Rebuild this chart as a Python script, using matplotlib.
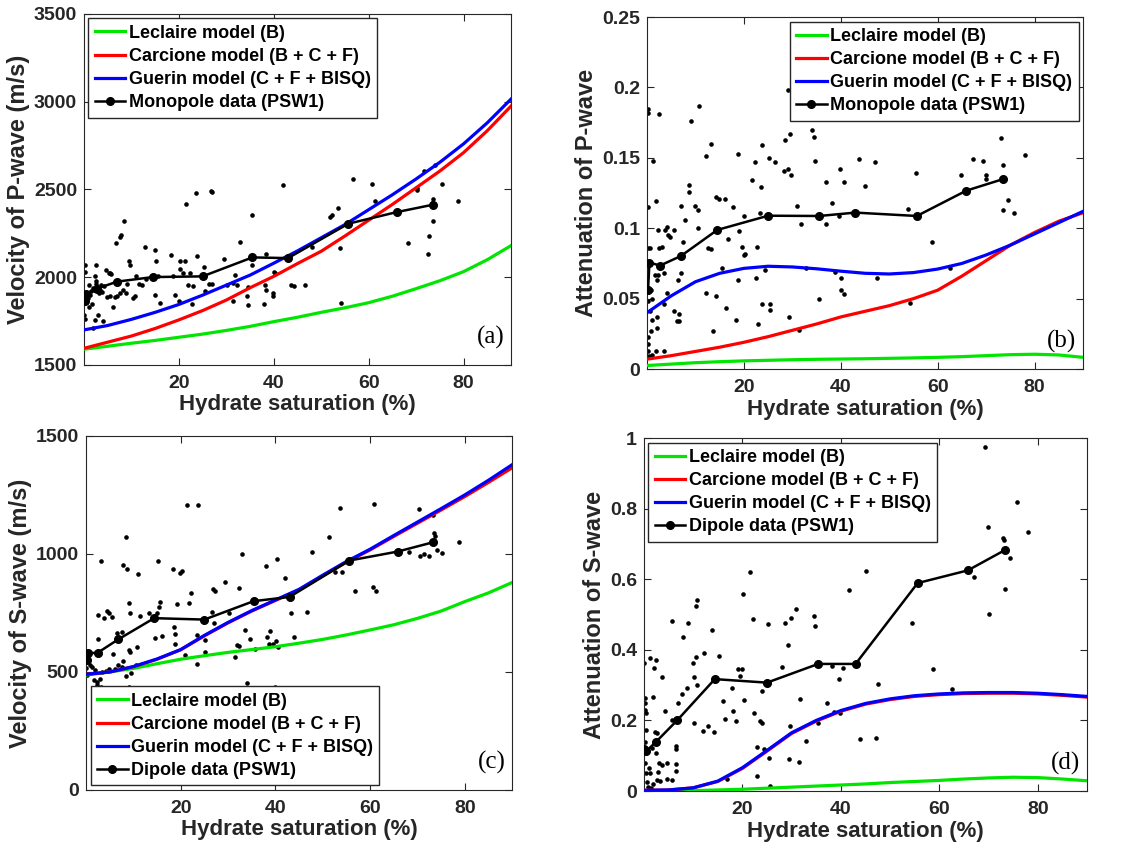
import numpy as np
import matplotlib.pyplot as plt
from matplotlib.lines import Line2D

plt.rcParams['font.family'] = ['Liberation Sans', 'DejaVu Sans']
plt.rcParams['font.weight'] = 'bold'

# --- model curves, every 5 % saturation ---
sat_grid = [0, 5, 10, 15, 20, 25, 30, 35, 40, 45, 50, 55, 60, 65, 70, 75, 80, 85, 90]

vp_leclaire = [1590, 1607, 1624, 1640, 1658, 1676, 1697, 1720, 1747, 1772, 1800, 1826, 1855, 1892, 1935, 1980, 2032, 2100, 2180]
vp_carcione = [1595, 1630, 1665, 1708, 1757, 1810, 1870, 1940, 2005, 2078, 2148, 2235, 2325, 2415, 2510, 2605, 2710, 2835, 2975]
vp_guerin = [1700, 1725, 1760, 1800, 1845, 1898, 1955, 2012, 2080, 2150, 2225, 2300, 2385, 2470, 2560, 2655, 2760, 2880, 3015]

qp_leclaire = [0.0025, 0.0035, 0.0045, 0.0052, 0.0058, 0.0062, 0.0066, 0.0069, 0.0071, 0.0073, 0.0076, 0.0079, 0.0083, 0.0088, 0.0095, 0.0102, 0.0105, 0.0100, 0.0083]
qp_carcione = [0.007, 0.0095, 0.0125, 0.0155, 0.019, 0.023, 0.0275, 0.032, 0.037, 0.041, 0.045, 0.050, 0.056, 0.066, 0.077, 0.088, 0.097, 0.105, 0.111]
qp_guerin = [0.040, 0.052, 0.062, 0.068, 0.0715, 0.073, 0.0725, 0.0712, 0.0695, 0.068, 0.0675, 0.0685, 0.071, 0.075, 0.081, 0.088, 0.096, 0.104, 0.112]

vs_leclaire = [487, 500, 515, 535, 554, 569, 583, 595, 607, 622, 638, 657, 678, 700, 727, 758, 798, 835, 879]
vs_carcione = [490, 500, 522, 554, 594, 653, 708, 758, 803, 848, 907, 965, 1017, 1074, 1130, 1186, 1243, 1303, 1365]
vs_guerin = [490, 500, 523, 555, 595, 655, 710, 760, 805, 850, 910, 968, 1020, 1078, 1135, 1192, 1250, 1312, 1378]

qs_leclaire = [0.0, 0.0, 0.001, 0.003, 0.005, 0.008, 0.011, 0.014, 0.017, 0.020, 0.024, 0.027, 0.030, 0.034, 0.037, 0.039, 0.038, 0.034, 0.029]
qs_carcione = [0.002, 0.003, 0.009, 0.027, 0.064, 0.113, 0.163, 0.198, 0.226, 0.246, 0.259, 0.268, 0.273, 0.276, 0.277, 0.277, 0.275, 0.271, 0.266]
qs_guerin = [0.002, 0.003, 0.009, 0.028, 0.066, 0.115, 0.165, 0.200, 0.228, 0.248, 0.261, 0.270, 0.275, 0.278, 0.279, 0.279, 0.277, 0.273, 0.268]

# --- binned log data (black lines) ---
mono_sat = [0.2, 0.5, 2.7, 7.0, 14.5, 25.0, 35.5, 43.0, 55.7, 65.9, 73.5]
mono_vp = [1862, 1905, 1935, 1975, 2001, 2005, 2113, 2109, 2305, 2371, 2413]
mono_qp = [0.0562, 0.0756, 0.0735, 0.0803, 0.0988, 0.1089, 0.1087, 0.1111, 0.1087, 0.1267, 0.1349]

dip_sat = [0.1, 0.4, 2.5, 6.8, 14.4, 25.0, 35.4, 43.0, 55.6, 65.8, 73.4]
dip_vs = [551, 579, 582, 638, 728, 722, 800, 818, 972, 1010, 1050]
dip_qs = [0.118, 0.112, 0.140, 0.201, 0.317, 0.307, 0.360, 0.360, 0.589, 0.625, 0.683]

# --- raw log samples (dots) ---
mono_vp_pts = [
    (0.3, 2067), (23.6, 2479), (21.4, 2417), (26.8, 2494), (27.0, 2483), (42.0, 2523), (56.8, 2561),
    (60.8, 2530), (61.3, 2435), (53.5, 2394), (51.9, 2341), (52.3, 2356), (54.0, 2168), (54.2, 1853),
    (46.5, 1953), (43.7, 1953), (44.2, 1950), (40.0, 2030), (40.3, 2025), (39.8, 1910), (39.8, 1893),
    (38.2, 1957), (38.3, 1929), (38.0, 1849), (38.3, 2134), (35.4, 2352), (35.5, 2071), (34.6, 1944),
    (34.4, 1893), (34.6, 1842), (32.9, 2200), (31.5, 1862), (31.9, 2010), (29.5, 2103), (31.5, 1967),
    (32.3, 1957), (30.1, 1957), (26.4, 1961), (27.0, 1961), (25.6, 1919), (25.3, 2058), (23.8, 2122),
    (22.0, 1953), (23.0, 1948), (22.7, 1849), (20.2, 2090), (21.3, 2095), (20.2, 2046), (20.9, 2024),
    (22.3, 2024), (19.2, 1897), (20.0, 1866), (18.3, 2124), (14.9, 2153), (12.8, 2172), (15.1, 2090),
    (15.0, 1900), (16.0, 1853), (15.6, 2005), (18.8, 2005), (10.9, 2005), (12.2, 1957), (10.7, 1891),
    (9.4, 2090), (9.6, 2067), (8.5, 2318), (6.7, 2195), (7.5, 2229), (7.7, 2238), (4.7, 2039),
    (5.2, 2027), (5.4, 2027), (2.6, 2071), (2.3, 2005), (2.6, 1976), (3.2, 1910), (3.0, 1787),
    (4.0, 1749), (2.3, 1758), (1.9, 1711), (0.1, 1787), (0.2, 1760), (4.9, 1885), (5.4, 1891),
    (6.5, 1885), (7.0, 1895), (7.5, 1910), (8.2, 1929), (10.4, 1881), (8.9, 1910), (68.3, 2194),
    (70.2, 2511), (70.2, 2498), (71.6, 2606), (73.9, 2637), (72.7, 2236), (72.5, 2132), (73.5, 2322),
    (73.5, 2445), (73.4, 2422), (75.4, 2530), (78.9, 2432), (48.0, 2175), (0.5, 1860), (0.8, 1880),
    (1.2, 1900), (1.5, 1920), (1.8, 1940), (2.2, 1930), (2.8, 1945), (3.3, 1925), (3.8, 1915),
    (1.0, 1830), (1.6, 1850), (0.4, 1900), (2.5, 1960), (3.6, 1955), (4.2, 1950), (0.2, 2030),
    (1.1, 1955), (5.8, 2020), (6.2, 1830), (9.0, 1960), (11.5, 1960), (13.0, 1990),
]

mono_qp_pts = [
    (0.3, 0.185), (0.3, 0.182), (2.5, 0.181), (1.3, 0.148), (0.1, 0.115), (1.9, 0.119), (0.1, 0.086),
    (0.6, 0.086), (0.1, 0.048), (0.1, 0.023), (0.1, 0.018), (0.1, 0.0125), (0.4, 0.009), (1.0, 0.010),
    (0.7, 0.041), (1.0, 0.035), (9.0, 0.176), (10.7, 0.187), (12.2, 0.151), (13.1, 0.160), (10.6, 0.100),
    (10.0, 0.116), (10.6, 0.113), (14.2, 0.122), (14.9, 0.121), (16.1, 0.121), (8.7, 0.126), (8.7, 0.131),
    (7.0, 0.116), (7.8, 0.106), (5.6, 0.099), (4.1, 0.101), (3.7, 0.099), (4.3, 0.095), (4.7, 0.094),
    (2.2, 0.099), (2.5, 0.086), (3.0, 0.087), (1.6, 0.067), (2.3, 0.067), (3.4, 0.068), (2.0, 0.063),
    (4.1, 0.054), (0.8, 0.056), (1.0, 0.050), (2.1, 0.037), (3.4, 0.046), (3.6, 0.0125), (1.9, 0.013),
    (0.8, 0.027), (2.1, 0.029), (5.6, 0.041), (6.5, 0.039), (6.1, 0.034), (6.5, 0.034), (6.4, 0.063),
    (7.1, 0.068), (7.4, 0.090), (12.6, 0.086), (13.3, 0.085), (12.2, 0.054), (13.7, 0.027), (14.2, 0.052),
    (15.4, 0.072), (16.2, 0.043), (16.8, 0.092), (17.8, 0.115), (18.8, 0.153), (19.0, 0.098), (18.3, 0.035),
    (18.8, 0.063), (19.6, 0.087), (20.0, 0.081), (20.2, 0.082), (20.0, 0.109), (21.6, 0.134), (22.3, 0.147),
    (22.8, 0.087), (22.5, 0.065), (23.0, 0.032), (23.3, 0.111), (23.6, 0.129), (23.8, 0.159), (23.8, 0.046),
    (24.3, 0.070), (25.2, 0.150), (25.4, 0.046), (25.4, 0.042), (26.5, 0.147), (28.5, 0.163), (29.1, 0.198),
    (28.2, 0.141), (29.0, 0.142), (29.5, 0.167), (29.8, 0.138), (29.3, 0.037), (30.9, 0.116), (31.4, 0.028),
    (31.8, 0.103), (32.9, 0.072), (34.0, 0.170), (34.5, 0.165), (34.6, 0.148), (35.4, 0.050), (37.0, 0.133),
    (37.0, 0.103), (38.1, 0.118), (38.7, 0.069), (39.7, 0.109), (39.8, 0.142), (40.1, 0.065), (40.1, 0.056),
    (40.6, 0.053), (40.7, 0.133), (43.8, 0.149), (44.9, 0.130), (47.0, 0.147), (47.5, 0.065), (53.9, 0.114),
    (54.2, 0.047), (55.6, 0.139), (58.9, 0.090), (62.5, 0.072), (64.9, 0.138), (67.2, 0.149), (69.3, 0.148),
    (70.0, 0.138), (70.0, 0.135), (73.0, 0.164), (73.5, 0.145), (73.5, 0.113), (74.5, 0.120), (75.7, 0.111),
    (78.0, 0.152),
]

dip_vs_pts = [
    (21.3, 1206), (23.6, 1209), (8.5, 1071), (3.2, 970), (7.9, 953), (8.6, 935), (10.9, 915), (15.2, 970),
    (18.3, 935), (19.9, 918), (20.3, 928), (33.0, 1000), (40.4, 977), (38.1, 949), (42.0, 897), (32.4, 855),
    (29.3, 883), (26.8, 850), (27.2, 843), (22.2, 833), (19.3, 788), (21.7, 791), (15.7, 795), (15.5, 777),
    (9.1, 794), (13.2, 749), (14.9, 751), (9.2, 749), (11.3, 737), (4.5, 760), (4.9, 751), (5.4, 732),
    (3.8, 729), (2.5, 742), (6.5, 664), (7.5, 671), (2.6, 638), (9.0, 593), (9.2, 586), (5.8, 575),
    (10.7, 607), (18.6, 692), (18.7, 660), (18.9, 619), (21.0, 572), (23.4, 532), (16.0, 654), (14.5, 643),
    (23.4, 657), (25.2, 636), (26.6, 756), (27.1, 706), (25.2, 586), (30.3, 751), (31.5, 565), (32.4, 610),
    (31.9, 613), (33.5, 678), (34.6, 638), (35.6, 596), (34.0, 455), (38.2, 650), (38.7, 619), (39.4, 617),
    (38.9, 675), (40.1, 631), (40.5, 605), (40.0, 438), (43.4, 751), (43.9, 650), (46.6, 756), (47.8, 1010),
    (51.3, 1073), (53.6, 1194), (52.7, 925), (54.1, 925), (56.8, 845), (60.7, 862), (61.3, 845), (60.9, 1210),
    (70.4, 1191), (70.5, 993), (71.5, 1000), (68.2, 1010), (72.5, 993), (73.3, 1165), (73.5, 1088), (73.7, 1076),
    (74.2, 1017), (75.3, 1006), (78.8, 1049), (0.3, 547), (0.0, 516), (0.3, 487), (0.85, 528), (1.2, 522),
    (1.9, 508), (2.3, 456), (2.4, 445), (3.0, 469), (3.3, 501), (3.1, 438), (1.6, 466), (4.2, 506),
    (4.9, 511), (6.1, 511), (6.8, 530), (7.5, 523), (7.9, 548), (9.0, 438), (9.5, 494), (8.5, 483),
    (10.5, 530),
]

dip_qs_pts = [
    (69.2, 0.974), (75.8, 0.818), (70.0, 0.748), (78.0, 0.733), (72.9, 0.716), (73.1, 0.710), (74.3, 0.660),
    (73.4, 0.572), (70.2, 0.501), (67.1, 0.605), (58.8, 0.345), (62.6, 0.288), (54.4, 0.475), (45.1, 0.622),
    (41.6, 0.570), (47.5, 0.302), (47.2, 0.151), (43.8, 0.147), (40.4, 0.348), (38.3, 0.354), (39.7, 0.317),
    (38.7, 0.223), (39.9, 0.220), (37.2, 0.250), (34.6, 0.497), (34.8, 0.468), (35.4, 0.192), (33.0, 0.143),
    (31.7, 0.260), (31.5, 0.081), (30.8, 0.515), (29.8, 0.490), (28.7, 0.477), (29.2, 0.414), (29.6, 0.184),
    (29.4, 0.090), (28.0, 0.351), (25.2, 0.473), (25.5, 0.093), (25.6, 0.015), (22.2, 0.488), (21.6, 0.620),
    (20.2, 0.558), (20.0, 0.345), (19.2, 0.345), (19.5, 0.327), (20.3, 0.258), (22.4, 0.220), (23.6, 0.197),
    (24.0, 0.194), (24.0, 0.282), (22.9, 0.124), (24.3, 0.119), (22.9, 0.043), (17.8, 0.291), (18.1, 0.227),
    (18.8, 0.197), (16.1, 0.255), (16.5, 0.203), (16.9, 0.034), (15.2, 0.383), (13.8, 0.455), (14.2, 0.168),
    (13.1, 0.184), (11.9, 0.171), (12.2, 0.390), (10.8, 0.542), (10.6, 0.523), (10.6, 0.379), (10.7, 0.299),
    (10.2, 0.324), (10.0, 0.362), (10.2, 0.194), (9.0, 0.475), (8.0, 0.435), (8.7, 0.293), (7.7, 0.275),
    (5.6, 0.482), (5.6, 0.201), (7.0, 0.249), (6.6, 0.128), (6.5, 0.118), (6.5, 0.076), (6.6, 0.057),
    (7.5, 0.003), (4.2, 0.227), (3.6, 0.324), (2.4, 0.370), (2.1, 0.348), (1.2, 0.378), (1.9, 0.265),
    (2.2, 0.166), (2.7, 0.165), (2.4, 0.107), (3.1, 0.078), (3.6, 0.074), (4.6, 0.078), (2.9, 0.055),
    (4.6, 0.034), (5.6, 0.031), (2.7, 0.031), (3.3, 0.028), (1.9, 0.019), (1.4, 0.009), (0.0, 0.362),
    (0.2, 0.263), (0.2, 0.249), (0.2, 0.230), (0.4, 0.222), (0.4, 0.173), (0.2, 0.140), (0.2, 0.078),
    (0.4, 0.050), (0.7, 0.026), (0.9, 0.012), (1.2, 0.050), (1.1, 0.064), (1.6, 0.121), (29.0, 0.715),
]

model_labels = ['Leclaire model (B)', 'Carcione model (B + C + F)', 'Guerin model (C + F + BISQ)']
model_colors = ['#00e600', '#ff0000', '#0000ff']
axis_color = '#262626'


def draw_panel(ax, pts, models, data_x, data_y, data_label, ylabel, yticks, yticklabels, letter, legend_loc):
    pts = np.array(pts)
    ax.plot(pts[:, 0], pts[:, 1], 'o', color='k', ms=3.3, mew=0, zorder=2)
    for vals, c, lab in zip(models, model_colors, model_labels):
        ax.plot(sat_grid, vals, color=c, lw=2.3, label=lab, zorder=3)
    ax.plot(data_x, data_y, '-o', color='k', lw=1.8, ms=5.5, label=data_label, zorder=4)

    ax.set_xlim(0, 90)
    ax.set_xticks([20, 40, 60, 80])
    ax.set_ylim(yticks[0], yticks[-1])
    ax.set_yticks(yticks)
    ax.set_yticklabels(yticklabels)
    ax.tick_params(direction='in', top=True, right=True, length=5, width=0.8,
                   labelsize=14, labelcolor=axis_color, color=axis_color)
    ax.tick_params(axis='x', pad=7)
    ax.tick_params(axis='y', pad=5)
    for sp in ax.spines.values():
        sp.set_color(axis_color)
        sp.set_linewidth(0.8)
    ax.set_xlabel('Hydrate saturation (%)', fontsize=16, fontweight='bold', color=axis_color, labelpad=2)
    ax.set_ylabel(ylabel, fontsize=17, fontweight='bold', color=axis_color, labelpad=3)

    ax.text(0.985, 0.045, letter, transform=ax.transAxes, ha='right', va='bottom',
            fontsize=18, fontweight='normal', family='Liberation Serif', zorder=5)

    handles = [Line2D([0], [0], color=c, lw=2.3) for c in model_colors]
    handles.append(Line2D([0], [0], color='k', lw=1.8, marker='o', ms=5.5))
    leg = ax.legend(handles, model_labels + [data_label], loc=legend_loc, fontsize=13,
                    handlelength=1.7, handletextpad=0.2, borderpad=0.35, labelspacing=0.34,
                    borderaxespad=0.25, fancybox=False, framealpha=1, edgecolor=axis_color)
    leg.get_frame().set_linewidth(1.0)
    leg.set_zorder(6)


fig = plt.figure(figsize=(11.44, 8.57), dpi=100)
ax_a = fig.add_axes([0.0734, 0.5741, 0.3733, 0.4096])
ax_b = fig.add_axes([0.5656, 0.5694, 0.3811, 0.4107])
ax_c = fig.add_axes([0.0752, 0.0782, 0.3724, 0.4131])
ax_d = fig.add_axes([0.5629, 0.0770, 0.3872, 0.4119])

draw_panel(ax_a, mono_vp_pts, [vp_leclaire, vp_carcione, vp_guerin], mono_sat, mono_vp,
           'Monopole data (PSW1)', 'Velocity of P-wave (m/s)',
           [1500, 2000, 2500, 3000, 3500], ['1500', '2000', '2500', '3000', '3500'], '(a)', 'upper left')
draw_panel(ax_b, mono_qp_pts, [qp_leclaire, qp_carcione, qp_guerin], mono_sat, mono_qp,
           'Monopole data (PSW1)', 'Attenuation of P-wave',
           [0, 0.05, 0.1, 0.15, 0.2, 0.25], ['0', '0.05', '0.1', '0.15', '0.2', '0.25'], '(b)', 'upper right')
draw_panel(ax_c, dip_vs_pts, [vs_leclaire, vs_carcione, vs_guerin], dip_sat, dip_vs,
           'Dipole data (PSW1)', 'Velocity of S-wave (m/s)',
           [0, 500, 1000, 1500], ['0', '500', '1000', '1500'], '(c)', 'lower left')
draw_panel(ax_d, dip_qs_pts, [qs_leclaire, qs_carcione, qs_guerin], dip_sat, dip_qs,
           'Dipole data (PSW1)', 'Attenuation of S-wave',
           [0, 0.2, 0.4, 0.6, 0.8, 1.0], ['0', '0.2', '0.4', '0.6', '0.8', '1'], '(d)', 'upper left')

fig.savefig('out.png', dpi=100)
